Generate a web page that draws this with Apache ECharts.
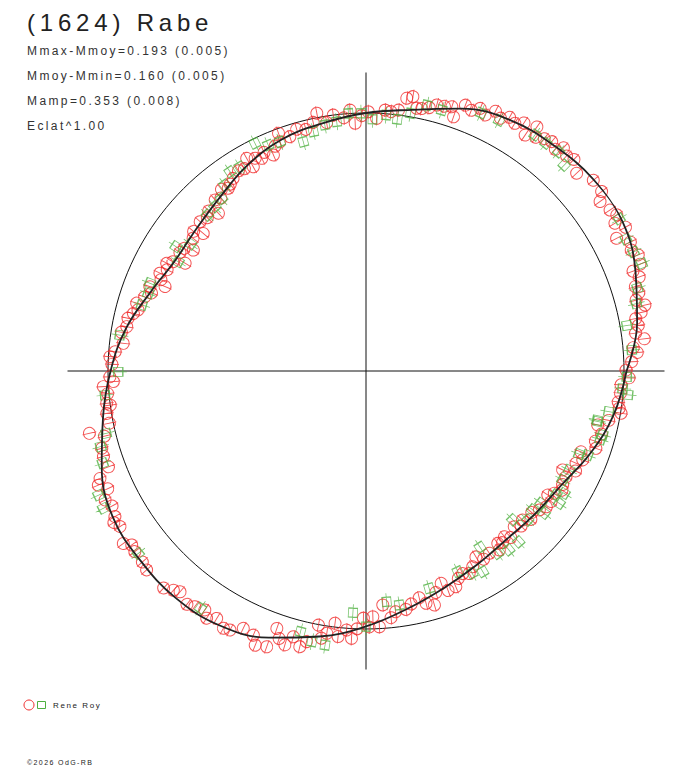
<!DOCTYPE html>
<html>
<head>
<meta charset="utf-8">
<script src="https://cdn.jsdelivr.net/npm/echarts@6/dist/echarts.min.js"></script>
<style>
    html, body { margin: 0; padding: 0; background: #fff; }
    #main { width: 688px; height: 768px; }
    /* the original labels are drawn letter-spaced */
    #main svg text { letter-spacing: 0.2em; }
</style>
</head>
<body>
<div id="main"></div>
<script>
(function () {
    'use strict';

    var titleText = '(1624) Rabe';
    var statLines = ['Mmax-Mmoy=0.193 (0.005)', 'Mmoy-Mmin=0.160 (0.005)', 'Mamp=0.353 (0.008)', 'Eclat^1.00'];
    var observer = 'Rene Roy';
    var copyright = '\u00a92026 OdG-RB';

    // fitted light curve: phase (deg, counter-clockwise from east) and relative radius (mean circle = 1)
    var fitPhase = [0, 10, 20, 30, 40, 50, 60, 70, 80, 90, 100, 110, 120, 130, 140, 150, 160, 170,
        180, 190, 200, 210, 220, 230, 240, 250, 260, 270, 280, 290, 300, 310, 320, 330, 340, 350, 360];
    var fitR = [1.01, 1.067, 1.112, 1.15, 1.153, 1.138, 1.122, 1.082, 1.028, 1.0, 0.975, 0.955, 0.92, 0.88, 0.858, 0.855, 0.89, 0.945,
        0.99, 1.035, 1.09, 1.133, 1.142, 1.148, 1.138, 1.1, 1.045, 0.99, 0.935, 0.893, 0.865, 0.85, 0.858, 0.878, 0.927, 0.975, 1.01];

    // observations [phase, radius]
    var redObs = [
        [0.2, 1.008], [2, 1.03], [3.9, 1.054], [5, 1.04], [6.6, 1.086], [8, 1.055], [9.5, 1.07], [11, 1.065], [12, 1.09],
        [13.3, 1.111], [14.7, 1.082], [16, 1.10], [17.4, 1.094], [19, 1.12], [20.5, 1.105], [21.3, 1.14], [23.1, 1.147],
        [24.5, 1.13], [26, 1.14], [27.9, 1.099], [29, 1.15], [30.7, 1.122], [31.9, 1.145], [33.4, 1.133], [34.5, 1.16],
        [35.9, 1.12], [37.3, 1.148], [38.5, 1.165], [40, 1.15], [41.2, 1.163], [43.2, 1.12], [44.2, 1.2], [45.5, 1.15],
        [47, 1.14], [48.5, 1.155], [49.5, 1.13], [51, 1.144], [52.5, 1.135], [54, 1.12], [55, 1.155], [56, 1.103],
        [57.5, 1.14], [59, 1.12], [60.5, 1.13], [62, 1.11], [63.5, 1.125], [65, 1.095], [66.5, 1.11], [68, 1.09],
        [69.5, 1.1], [71, 1.042], [72, 1.077], [73.5, 1.07], [75.1, 1.067], [76.5, 1.05], [78, 1.04], [79.1, 1.037],
        [80.3, 1.079], [81.5, 1.069], [82.9, 1.019], [84.5, 1.01], [85.8, 1.014], [87.6, 0.98], [89.5, 1.005],
        [91, 0.99], [92.5, 0.961], [93.5, 1.013], [95, 0.985], [97.3, 1.0], [99, 0.975], [100.8, 1.017], [102, 0.985],
        [104, 0.965], [106, 0.975], [108, 0.955], [110.2, 0.982], [110.6, 0.949], [112, 0.94], [113.2, 0.911],
        [115, 0.935], [116.1, 0.918], [117.5, 0.93], [118.9, 0.904], [119.3, 0.945], [121, 0.915], [122.5, 0.92],
        [124.6, 0.907], [126, 0.895], [127, 0.887], [128.5, 0.9], [130, 0.875], [131.4, 0.884], [133.1, 0.837],
        [134.5, 0.87], [136, 0.855], [138, 0.865], [139.8, 0.826], [141, 0.86], [142.5, 0.845], [145, 0.817],
        [146, 0.85], [147.5, 0.855], [149.2, 0.816], [150.5, 0.86], [151.6, 0.878], [153, 0.865], [154.6, 0.884],
        [156, 0.87], [157.2, 0.845], [158.7, 0.899], [160, 0.885], [161.5, 0.905], [163.5, 0.927], [165, 0.915],
        [166.1, 0.929], [167.5, 0.945], [169.5, 0.943], [171, 0.96], [173.5, 0.947], [175.6, 0.975], [176.8, 0.994],
        [178.5, 0.985],
        [181.3, 0.993], [182.4, 0.98], [183.4, 1.02], [185, 1.005], [187.1, 1.013], [187.6, 1.0], [189.3, 1.018],
        [191.5, 1.015], [192.7, 1.099], [194, 1.045], [196.3, 1.067], [198, 1.07], [200.4, 1.065], [202, 1.112],
        [203.1, 1.128], [204.5, 1.1], [206.3, 1.128], [208, 1.115], [210.1, 1.125], [211, 1.14], [212.3, 1.128],
        [214.1, 1.191], [215.4, 1.154], [216.6, 1.131], [218, 1.137], [219, 1.178], [220.5, 1.14], [222.2, 1.148],
        [223.2, 1.184], [224.7, 1.169], [225.8, 1.192], [227, 1.15], [228.7, 1.131], [229.9, 1.119], [231.1, 1.158],
        [232.5, 1.14], [234, 1.129], [236, 1.117], [237.2, 1.14], [238.9, 1.12], [239.6, 1.171], [241, 1.14],
        [242.3, 1.134], [244.5, 1.105], [246.9, 1.113], [248, 1.146], [250.2, 1.136], [250.9, 1.056], [252, 1.09],
        [253.5, 1.107], [254.7, 1.068], [256.5, 1.099], [257.6, 1.074], [259.4, 1.002], [260.5, 1.05], [261.5, 1.028],
        [263, 0.985], [264, 1.035], [265.7, 1.007], [266.9, 1.038], [268, 1.0], [269.4, 0.958],
        [270.7, 0.992], [271.6, 0.953], [273, 0.993], [274.1, 0.909], [275.8, 0.961], [277, 0.94], [279.5, 0.937],
        [281, 0.92], [283.2, 0.903], [284.5, 0.93], [286.3, 0.945], [287.5, 0.9], [289.5, 0.873], [290.5, 0.908],
        [292.6, 0.906], [294, 0.88], [295.5, 0.87], [297, 0.881], [298.6, 0.864], [300.6, 0.837], [302, 0.86],
        [304.1, 0.853], [306.7, 0.865], [307.4, 0.841], [308.5, 0.85], [309.9, 0.837], [311, 0.855], [313.6, 0.833],
        [315, 0.85], [316.4, 0.838], [318, 0.86], [319.5, 0.845], [321.3, 0.861], [323, 0.875], [324.8, 0.878],
        [325.7, 0.853], [327, 0.87], [328.7, 0.889], [330, 0.88], [332.1, 0.877], [333.3, 0.853], [334.5, 0.9],
        [336.3, 0.889], [337.7, 0.908], [339.4, 0.89], [341.4, 0.94], [343, 0.93], [345, 0.945], [346.9, 0.922],
        [348.5, 0.96], [350.6, 1.002], [351.6, 0.992], [353, 0.985], [355, 0.99], [356.9, 0.99], [358.5, 1.02]
    ];
    var greenObs = [
        [4.5, 1.033], [9.9, 1.026], [14, 1.08], [17, 1.1], [21.3, 1.147], [24, 1.135], [26.9, 1.13], [31, 1.145],
        [37.9, 1.185], [43.4, 1.181], [46.1, 1.108], [48.7, 1.131], [51.7, 1.125], [54.4, 1.125], [57.1, 1.158],
        [62, 1.1], [66, 1.095], [73.8, 1.053], [77.1, 1.057], [80.2, 1.014], [82.9, 0.983], [85.5, 0.995], [88.5, 0.976],
        [91.1, 0.999], [93.9, 1.001], [96.7, 0.973], [99.5, 0.967], [102.4, 0.95], [105.3, 0.921], [110.6, 0.949],
        [113.4, 0.954], [116, 0.982], [121.7, 0.93], [124.3, 0.935], [127.2, 0.905], [129.9, 0.872], [132.6, 0.865],
        [135.5, 0.862], [144.1, 0.839], [146.8, 0.88], [149.8, 0.842], [157.9, 0.904], [160.4, 0.896], [163.6, 0.906],
        [171.7, 0.964], [180.2, 0.96],
        [185.3, 1.016], [193.5, 1.036], [195.9, 1.069], [199.3, 1.081], [204.9, 1.143], [207.6, 1.149], [218.7, 1.131],
        [235.1, 1.121], [243.3, 1.159], [255.9, 1.042], [258.7, 1.07], [261.5, 1.074], [266.9, 0.938], [270, 0.991],
        [275.1, 0.898], [278.1, 0.916], [286.2, 0.877], [294.6, 0.855], [297.7, 0.885], [300.2, 0.9], [302.9, 0.814],
        [305.8, 0.872], [308.6, 0.887], [311.8, 0.888], [314.6, 0.81], [317.3, 0.852], [320.2, 0.841], [321.4, 0.884],
        [322.9, 0.85], [325.6, 0.908], [326.9, 0.879], [328.3, 0.903], [331, 0.872], [334, 0.876], [338.7, 0.887],
        [339.2, 0.919], [343.7, 0.946], [344.9, 0.95], [347.7, 0.919], [348, 0.916], [350.5, 0.954], [354.8, 1.02],
        [356.1, 0.997], [358.7, 1.011]
    ];

    var RED = '#f02a2a';
    var GREEN = '#4fb040';
    var FONT = 'Liberation Sans';

    // marker + radial error bar, drawn horizontally then turned to the phase angle
    var redSymbol = 'path://M0,6A6,6,0,1,1,12,6A6,6,0,1,1,0,6ZM-1,6L13,6';
    var greenSymbol = 'path://M0,0L9,0L9,9L0,9ZM-4,4.5L13,4.5';

    function toPolar(list) {
        return list.map(function (p) {
            return {value: [p[1], p[0]], symbolRotate: p[0]};
        });
    }

    var fitData = fitPhase.map(function (a, i) {
        return [fitR[i], a];
    });

    var chart = echarts.init(document.getElementById('main'), null, {renderer: 'svg'});

    var option = {
        backgroundColor: '#fff',
        animation: false,
        polar: [
            {center: [366, 371], radius: 258},
            {center: [366, 371], radius: 298.5}
        ],
        angleAxis: [
            {
                polarIndex: 0, type: 'value', min: 0, max: 360, startAngle: 0, clockwise: false,
                axisLine: {show: true, lineStyle: {color: '#111', width: 1}},
                axisTick: {show: false}, axisLabel: {show: false}, splitLine: {show: false}
            },
            {
                polarIndex: 1, type: 'value', min: 0, max: 360, interval: 90, startAngle: 0, clockwise: false,
                axisLine: {show: false}, axisTick: {show: false}, axisLabel: {show: false},
                splitLine: {show: true, lineStyle: {color: '#111', width: 1}}
            }
        ],
        radiusAxis: [
            {
                polarIndex: 0, type: 'value', min: 0, max: 1,
                axisLine: {show: false}, axisTick: {show: false}, axisLabel: {show: false}, splitLine: {show: false}
            },
            {
                polarIndex: 1, type: 'value', min: 0, max: 298.5 / 258,
                axisLine: {show: false}, axisTick: {show: false}, axisLabel: {show: false}, splitLine: {show: false}
            }
        ],
        series: [
            {
                type: 'scatter', coordinateSystem: 'polar', polarIndex: 1,
                symbol: redSymbol, symbolSize: [14, 12],
                itemStyle: {color: 'rgba(0,0,0,0)', borderColor: RED, borderWidth: 1},
                data: toPolar(redObs), z: 2
            },
            {
                type: 'scatter', coordinateSystem: 'polar', polarIndex: 1,
                symbol: greenSymbol, symbolSize: [17, 9],
                itemStyle: {color: 'rgba(0,0,0,0)', borderColor: GREEN, borderWidth: 1},
                data: toPolar(greenObs), z: 3
            },
            {
                type: 'line', coordinateSystem: 'polar', polarIndex: 1,
                data: fitData, smooth: 0.4, showSymbol: false, symbol: 'none',
                lineStyle: {color: '#222', width: 1.8}, z: 4
            }
        ],
        graphic: [
            {type: 'text', left: 27, top: 10, style: {text: titleText, font: '24px "' + FONT + '"', fill: '#222'}},
            {type: 'text', left: 27, top: 45, style: {text: statLines[0], font: '12px "' + FONT + '"', fill: '#333'}},
            {type: 'text', left: 27, top: 70, style: {text: statLines[1], font: '12px "' + FONT + '"', fill: '#333'}},
            {type: 'text', left: 27, top: 95, style: {text: statLines[2], font: '12px "' + FONT + '"', fill: '#333'}},
            {type: 'text', left: 27, top: 120, style: {text: statLines[3], font: '12px "' + FONT + '"', fill: '#333'}},
            {type: 'circle', shape: {cx: 29, cy: 705, r: 5}, style: {fill: 'none', stroke: RED, lineWidth: 1}},
            {type: 'rect', shape: {x: 37.5, y: 701.5, width: 8, height: 7}, style: {fill: 'none', stroke: GREEN, lineWidth: 1}},
            {type: 'text', left: 53, top: 701, style: {text: observer, font: '8px "' + FONT + '"', fill: '#222'}},
            {type: 'text', left: 27, top: 759, style: {text: copyright, font: '7px "' + FONT + '"', fill: '#222'}}
        ]
    };

    chart.setOption(option);
})();
</script>
</body>
</html>
